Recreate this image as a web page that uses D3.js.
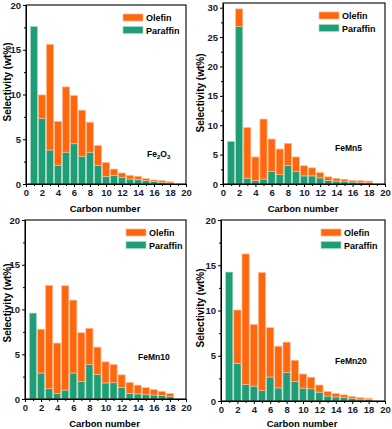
<!DOCTYPE html>
<html>
<head>
<meta charset="utf-8">
<script src="https://cdn.jsdelivr.net/npm/d3@7"></script>
<style>
  body { margin: 0; background: #fff; }
  text { font-family: "Liberation Sans", Arial, sans-serif; font-weight: bold; }
</style>
</head>
<body>
<div id="chart"></div>
<script>
// carbon numbers C1..C18
var carbon = d3.range(1, 19);

// Fe2O3
var fe2o3Paraffin = [17.6, 7.35, 3.8, 2.1, 3.55, 4.5, 3.1, 3.55, 2.05, 0.85, 0.95, 0.72, 0.56, 0.48, 0.37, 0.27, 0.2, 0.12];
var fe2o3Olefin   = [0, 2.6, 11.8, 4.9, 7.3, 5.4, 5.15, 3.35, 2.25, 1.55, 0.72, 0.51, 0.41, 0.38, 0.23, 0.18, 0.17, 0.13];
// FeMn5
var femn5Paraffin = [7.25, 26.8, 1.0, 0.6, 0.85, 2.15, 1.6, 3.17, 2.15, 1.38, 1.38, 1.05, 0.6, 0.5, 0.4, 0.34, 0.28, 0.22];
var femn5Olefin   = [0, 3.0, 8.6, 4.0, 10.2, 5.5, 4.35, 3.75, 2.45, 1.72, 1.37, 0.88, 0.62, 0.45, 0.4, 0.28, 0.27, 0.28];
// FeMn10
var femn10Paraffin = [9.6, 2.9, 1.15, 0.6, 1.0, 2.9, 1.95, 3.85, 2.75, 1.8, 1.82, 1.3, 0.62, 0.57, 0.52, 0.45, 0.4, 0.3];
var femn10Olefin   = [0, 4.9, 11.55, 5.65, 11.65, 8.15, 5.45, 4.05, 3.05, 2.35, 2.03, 1.4, 1.23, 0.98, 0.75, 0.59, 0.46, 0.32];
// FeMn20
var femn20Paraffin = [14.25, 4.15, 1.85, 1.65, 1.15, 2.65, 1.45, 3.15, 2.15, 1.42, 1.35, 0.98, 0.55, 0.45, 0.38, 0.3, 0.22, 0.16];
var femn20Olefin   = [0, 5.9, 14.4, 6.8, 13.05, 5.45, 4.6, 3.35, 2.35, 1.56, 1.28, 0.79, 0.5, 0.38, 0.3, 0.2, 0.16, 0.14];

var xTicks = d3.range(0, 21, 2);
var seriesNames = ["Paraffin", "Olefin"];
var colors = { Paraffin: "#1f9d76", Olefin: "#ff670f" };
var edges = { Paraffin: "#a9dcc8", Olefin: "#ffbb92" };

var W = 392, H = 429;
var svg = d3.select("#chart").append("svg").attr("width", W).attr("height", H);

// panel boxes
var panels = [
  { label: "Fe2O3", paraffin: fe2o3Paraffin, olefin: fe2o3Olefin, yMax: 20, yTop: 20, yStep: 5,
    box: { l: 26, r: 186, t: 5, b: 184 }, xlabDy: 28, ylab: { x: 8, y: 82 }, leg: { x: 123, y: 14 }, tag: { x: 147, y: 157 } },
  { label: "FeMn5", paraffin: femn5Paraffin, olefin: femn5Olefin, yMax: 30.8, yTop: 30, yStep: 5,
    box: { l: 223, r: 385, t: 3, b: 184 }, xlabDy: 28, ylab: { x: 201, y: 93 }, leg: { x: 319, y: 12 }, tag: { x: 335, y: 151 } },
  { label: "FeMn10", paraffin: femn10Paraffin, olefin: femn10Olefin, yMax: 20, yTop: 20, yStep: 5,
    box: { l: 25, r: 186, t: 220, b: 399 }, xlabDy: 28, ylab: { x: 8, y: 303 }, leg: { x: 126, y: 229 }, tag: { x: 138, y: 360 } },
  { label: "FeMn20", paraffin: femn20Paraffin, olefin: femn20Olefin, yMax: 20, yTop: 20, yStep: 5,
    box: { l: 221, r: 385, t: 220, b: 401 }, xlabDy: 26, ylab: { x: 201, y: 308 }, leg: { x: 321, y: 229 }, tag: { x: 335, y: 364 } }
];

panels.forEach(function(p) {
    var g = svg.append("g");
    var x = d3.scaleLinear().domain([0, 20]).range([p.box.l, p.box.r]);
    var y = d3.scaleLinear().domain([0, p.yMax]).range([p.box.b, p.box.t]);
    var bw = (x(1) - x(0)) * 0.88;

    var rows = carbon.map(function(c, i) {
        return { c: c, Paraffin: p.paraffin[i], Olefin: p.olefin[i] };
    });
    var stacked = d3.stack().keys(seriesNames)(rows);

    g.selectAll("g.series")
        .data(stacked)
        .enter().append("g")
        .attr("fill", function(s) { return colors[s.key]; })
        .attr("stroke", function(s) { return edges[s.key]; })
        .attr("stroke-width", 0.7)
        .selectAll("rect")
        .data(function(s) { return s.filter(function(d) { return d[1] - d[0] > 0; }); })
        .enter().append("rect")
        .attr("x", function(d) { return x(d.data.c) - bw / 2; })
        .attr("width", bw)
        .attr("y", function(d) { return y(d[1]); })
        .attr("height", function(d) { return y(d[0]) - y(d[1]); });

    // frame
    g.append("rect")
        .attr("x", p.box.l).attr("y", p.box.t)
        .attr("width", p.box.r - p.box.l).attr("height", p.box.b - p.box.t)
        .attr("fill", "none").attr("stroke", "#000").attr("stroke-width", 1.1);

    // x axis, major + minor
    g.append("g").attr("transform", "translate(0," + p.box.b + ")")
        .call(d3.axisBottom(x).tickValues(xTicks).tickSize(3).tickSizeOuter(0).tickPadding(2));
    g.append("g").attr("transform", "translate(0," + p.box.b + ")")
        .call(d3.axisBottom(x).tickValues(d3.range(1, 20, 2)).tickSize(2).tickFormat(""))
        .call(function(a) { a.select(".domain").remove(); });

    // y axis
    var yTicks = d3.range(0, p.yTop + 0.1, p.yStep);
    g.append("g").attr("transform", "translate(" + p.box.l + ",0)")
        .call(d3.axisLeft(y).tickValues(yTicks).tickSize(3).tickSizeOuter(0).tickPadding(2));
    g.append("g").attr("transform", "translate(" + p.box.l + ",0)")
        .call(d3.axisLeft(y).tickValues(d3.range(p.yStep / 2, p.yTop, p.yStep)).tickSize(2).tickFormat(""))
        .call(function(a) { a.select(".domain").remove(); });

    g.selectAll(".tick text").style("font-size", "9.5px").style("font-weight", "bold")
        .style("font-family", "'Liberation Sans', Arial, sans-serif").attr("fill", "#1a1a2a");
    g.selectAll(".domain, .tick line").attr("stroke", "#000");

    // axis titles
    g.append("text")
        .attr("x", (p.box.l + p.box.r) / 2 - 1)
        .attr("y", p.box.b + p.xlabDy)
        .attr("text-anchor", "middle")
        .style("font-size", "9.5px")
        .text("Carbon number");
    g.append("text")
        .attr("transform", "translate(" + (p.ylab.x + 3) + "," + p.ylab.y + ") rotate(-90)")
        .attr("text-anchor", "middle")
        .style("font-size", "10px")
        .text("Selectivity (wt%)");

    // legend
    var legOrder = ["Olefin", "Paraffin"];
    legOrder.forEach(function(k, i) {
        g.append("rect")
            .attr("x", p.leg.x).attr("y", p.leg.y + i * 12.5)
            .attr("width", 20).attr("height", 7)
            .attr("fill", colors[k]).attr("stroke", edges[k]).attr("stroke-width", 0.7);
        g.append("text")
            .attr("x", p.leg.x + 23).attr("y", p.leg.y + i * 12.5 + 7)
            .style("font-size", "9px")
            .text(k);
    });

    // sample tag
    var t = g.append("text").attr("x", p.tag.x).attr("y", p.tag.y).style("font-size", "8.5px");
    if (p.label === "Fe2O3") {
        t.append("tspan").text("Fe");
        t.append("tspan").text("2").style("font-size", "6px").attr("dy", 1.5);
        t.append("tspan").text("O").attr("dy", -1.5);
        t.append("tspan").text("3").style("font-size", "6px").attr("dy", 1.5);
    } else {
        t.text(p.label);
    }
});
</script>
</body>
</html>
